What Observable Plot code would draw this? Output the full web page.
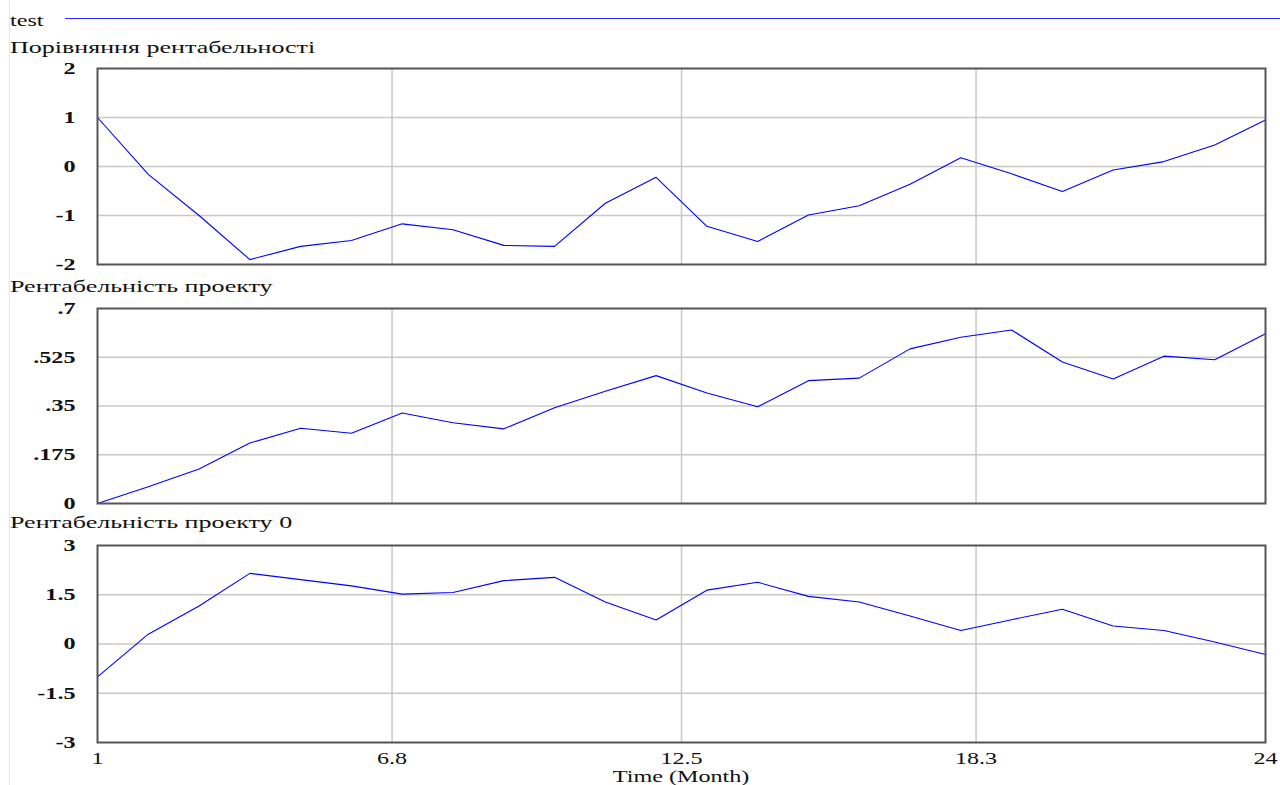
<!DOCTYPE html>
<html>
<head>
<meta charset="utf-8">
<script src="https://cdn.jsdelivr.net/npm/d3@7"></script>
<script src="https://cdn.jsdelivr.net/npm/@observablehq/plot@0.6"></script>
<style>
  html, body { margin: 0; padding: 0; background: #fff; }
  #page { position: relative; width: 1280px; height: 785px; overflow: hidden; background: #fff;
          font-family: "Liberation Serif", "Times New Roman", serif; color: #111; }
  .edge { position: absolute; left: 9px; top: 0; width: 1px; height: 785px; background: #e6e6e6; }
  .txt { position: absolute; font-size: 17px; line-height: 17px; white-space: nowrap;
         transform-origin: 0 50%; }
  .legend-line { position: absolute; left: 65px; top: 18px; width: 1215px; height: 1px; background: #2b2bff; }
  .panel { position: absolute; left: 0; }
</style>
</head>
<body>
<div id="page">
  <div class="edge"></div>
</div>
<script>
// Months of the simulation run
const months = [1, 2, 3, 4, 5, 6, 7, 8, 9, 10, 11, 12, 13, 14, 15, 16, 17, 18, 19, 20, 21, 22, 23, 24];

// Порівняння рентабельності
const comparison = [1.0, -0.16, -1.0, -1.9, -1.63, -1.51, -1.17, -1.29, -1.61, -1.63, -0.75, -0.22,
                    -1.22, -1.53, -0.99, -0.80, -0.36, 0.18, -0.15, -0.51, -0.07, 0.10, 0.44, 0.95];
// Рентабельність проекту
const projectProfit = [0, 0.06, 0.124, 0.217, 0.27, 0.252, 0.325, 0.29, 0.268, 0.344, 0.403, 0.459,
                       0.397, 0.347, 0.441, 0.45, 0.555, 0.597, 0.623, 0.508, 0.447, 0.529, 0.516, 0.609];
// Рентабельність проекту 0
const projectProfit0 = [-1.0, 0.3, 1.16, 2.15, 1.96, 1.77, 1.52, 1.57, 1.93, 2.03, 1.28, 0.73,
                        1.64, 1.88, 1.45, 1.28, 0.85, 0.41, 0.74, 1.06, 0.55, 0.41, 0.06, -0.32];

// Axis ticks
const timeTicks = [1, 6.8, 12.5, 18.3, 24];
const timeGrid = [6.8, 12.5, 18.3];
const comparisonTicks = [-2, -1, 0, 1, 2];
const profitTicks = [0, 0.175, 0.35, 0.525, 0.7];
const profit0Ticks = [-3, -1.5, 0, 1.5, 3];

const seriesName = "test";
const xLabel = "Time (Month)";

const FONT = '"Liberation Serif", "Times New Roman", serif';
const STRETCH = 1.42;        // wide-set lettering (digits, Latin)
const STRETCH_CYR = 1.53;    // Cyrillic titles
const page = document.getElementById("page");

function addText(str, left, top, stretch = STRETCH) {
  const d = document.createElement("div");
  d.className = "txt";
  d.textContent = str;
  d.style.left = left + "px";
  d.style.top = top + "px";
  d.style.transform = `scaleX(${stretch})`;
  page.appendChild(d);
  return d;
}

// Widen the tick labels; they keep their anchor since only the glyph run grows
function stretchLabels(svg) {
  svg.querySelectorAll('g[aria-label$="tick label"] text').forEach(el => {
    const len = el.getComputedTextLength();
    if (len > 0) {
      el.setAttribute("textLength", (len * STRETCH).toFixed(2));
      el.setAttribute("lengthAdjust", "spacingAndGlyphs");
    }
  });
}

const fmtPlain = d => String(d).replace(/^(-?)0\./, "$1.");

function panel({values, domain, ticks, top, plotHeight, showX}) {
  const data = months.map((m, i) => ({month: m, value: values[i]}));
  const marginTop = 8, marginBottom = showX ? 40 : 4;
  const marks = [
    Plot.gridY(ticks.slice(1, -1), {stroke: "#c8c8c8", strokeOpacity: 1, strokeWidth: 1.5}),
    Plot.gridX(timeGrid, {stroke: "#c8c8c8", strokeOpacity: 1, strokeWidth: 1.5}),
    Plot.line(data, {x: "month", y: "value", stroke: "#0000ff", strokeWidth: 1.1}),
    Plot.frame({stroke: "#555", strokeWidth: 2}),
    Plot.axisY(ticks, {tickSize: 0, tickPadding: 22, tickFormat: fmtPlain, fontWeight: "bold", label: null}),
  ];
  if (showX) {
    marks.push(Plot.axisX(timeTicks, {tickSize: 0, tickPadding: 9, tickFormat: d => String(d), label: null}));
  } else {
    marks.push(Plot.axisX([], {label: null}));
  }
  const chart = Plot.plot({
    width: 1280,
    height: marginTop + plotHeight + marginBottom,
    marginLeft: 97,
    marginRight: 15,
    marginTop,
    marginBottom,
    x: {domain: [1, 24]},
    y: {domain},
    style: {fontFamily: FONT, fontSize: "17px", color: "#111", background: "transparent", overflow: "visible"},
    marks
  });
  chart.classList.add("panel");
  chart.style.top = (top - marginTop) + "px";
  page.appendChild(chart);
  stretchLabels(chart);
}

// Legend
addText(seriesName, 10, 12);
const ll = document.createElement("div");
ll.className = "legend-line";
page.appendChild(ll);

// Panel titles
addText("Порівняння рентабельності", 10, 39, STRETCH_CYR);
addText("Рентабельність проекту", 10, 278, STRETCH_CYR);
addText("Рентабельність проекту 0", 10, 514, STRETCH_CYR);

panel({values: comparison, domain: [-2, 2], ticks: comparisonTicks, top: 68, plotHeight: 196, showX: false});
panel({values: projectProfit, domain: [0, 0.7], ticks: profitTicks, top: 308, plotHeight: 195, showX: false});
panel({values: projectProfit0, domain: [-3, 3], ticks: profit0Ticks, top: 545, plotHeight: 197, showX: true});

// Time axis title, centred under the middle gridline
const xl = addText(xLabel, 0, 768);
xl.style.transformOrigin = "50% 50%";
xl.style.left = (681 - xl.offsetWidth / 2) + "px";
</script>
</body>
</html>
